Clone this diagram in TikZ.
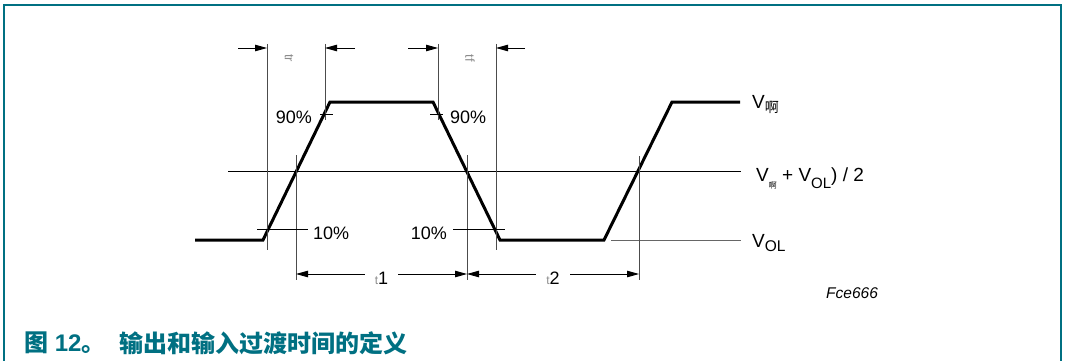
\documentclass[tikz,border=0pt]{standalone}
\usepackage{fontspec}
\setmainfont{Liberation Sans}
\newfontfamily\cjk{Noto Sans CJK SC}
\usetikzlibrary{arrows.meta, positioning, calc}
\definecolor{frameteal}{RGB}{0,112,130}

\begin{document}
\begin{tikzpicture}[
    x=1pt, y=-1pt,
    every node/.style={font=\fontsize{18}{18}\selectfont, inner sep=0pt},
    wave/.style={line width=3pt, line join=miter},
    guide/.style={line width=0.9pt},
    arr/.style={-{Triangle[length=12pt,width=6.5pt]}, line width=0.9pt},
    darr/.style={{Triangle[length=12pt,width=6.5pt]}-{Triangle[length=12pt,width=6.5pt]}, line width=0.9pt},
    lvl/.style={anchor=west, font=\fontsize{19}{19}\selectfont},
    tlab/.style={text=black!45, font=\fontsize{13}{13}\selectfont, rotate=-90},
    captext/.style={anchor=west, text=frameteal, font=\fontsize{24}{24}\selectfont\bfseries}
  ]
  \useasboundingbox (0,0) rectangle (1065,361);
  % frame
  \draw[frameteal, line width=2.5pt] (4,370) -- (4,5) -- (1061,5) -- (1061,370);

  % waveform
  \draw[wave] (195,240) -- (263,240) -- (330,102) -- (433,102) -- (500,240)
              -- (604,240) -- (672,102) -- (740,102);

  % level lines
  \coordinate (midL) at (228,171);
  \coordinate (midR) at (741,171);
  \coordinate (olL)  at (611,240);
  \coordinate (olR)  at (741,240);
  \draw[guide] (midL) -- (midR);
  \draw[guide, black!60] (olL) -- (olR);

  % vertical guides
  \foreach \name/\xx/\ya/\yb in {r10/267/44/250, r90/325/44/120, f90/438/44/120,
                                 f10/496/44/250, r50/296/155/280, f50/467/155/280,
                                 s50/639/156/280} {
    \coordinate (\name top) at (\xx,\ya);
    \coordinate (\name bot) at (\xx,\yb);
    \draw[guide, black!70] (\name top) -- (\name bot);
  }

  % percent ticks
  \draw[guide] (320,114) -- (333,114);
  \draw[guide] (430,114) -- (443,114);
  \draw[guide] (257,229) -- (308,229);
  \draw[guide] (453,229) -- (505,229);

  \node[anchor=east] (p90a) at (312,117) {90\%};
  \node[anchor=west] (p90b) at (450,117) {90\%};
  \node[anchor=west] (p10a) at (313,233) {10\%};
  \node[anchor=east] (p10b) at (447,233) {10\%};

  % rise / fall time markers
  \coordinate (trA) at (238,48);
  \coordinate (trB) at (267,48);
  \coordinate (trC) at (355,48);
  \coordinate (trD) at (325,48);
  \coordinate (tfA) at (408,48);
  \coordinate (tfB) at (438,48);
  \coordinate (tfC) at (525,48);
  \coordinate (tfD) at (496,48);
  \draw[arr] (trA) -- (trB);
  \draw[arr] (trC) -- (trD);
  \draw[arr] (tfA) -- (tfB);
  \draw[arr] (tfC) -- (tfD);
  \node[tlab] (tr) at (289,58) {tr};
  \node[tlab] (tf) at (470,58) {tf};

  % t1 / t2
  \coordinate (t1L) at (296,274);
  \coordinate (t1R) at (467,274);
  \coordinate (t2R) at (639,274);
  \draw[darr] (t1L) -- node[fill=white, inner xsep=10pt, yshift=-4pt] (t1)
        {{\color{black!45}\fontsize{12}{12}\selectfont t}1} (t1R);
  \draw[darr] (t1R) -- node[fill=white, inner xsep=10pt, yshift=-4pt] (t2)
        {{\color{black!45}\fontsize{12}{12}\selectfont t}2} (t2R);

  % level labels
  \node[lvl] (voh) at (752,105) {V{\cjk\fontsize{14}{14}\selectfont\raisebox{-4pt}{啊}}};
  \node[lvl] (vmid) at (756,178)
        {V{\cjk\fontsize{8}{8}\selectfont\raisebox{-7pt}{啊}} + V{\fontsize{15}{15}\selectfont\raisebox{-7pt}{OL}}) / 2};
  \node[lvl] (vol) at (752,243) {V{\fontsize{15.5}{15.5}\selectfont\raisebox{-4pt}{OL}}};

  \node[anchor=west, font=\fontsize{15.5}{15.5}\selectfont\itshape] (fig) at (826,293) {Fce666};

  % caption
  \node[captext] (capnum) at (24,343) {{\cjk 图} 12{\cjk 。}};
  \node[captext] (captxt) at (119,343) {\cjk 输出和输入过渡时间的定义};
\end{tikzpicture}
\end{document}
